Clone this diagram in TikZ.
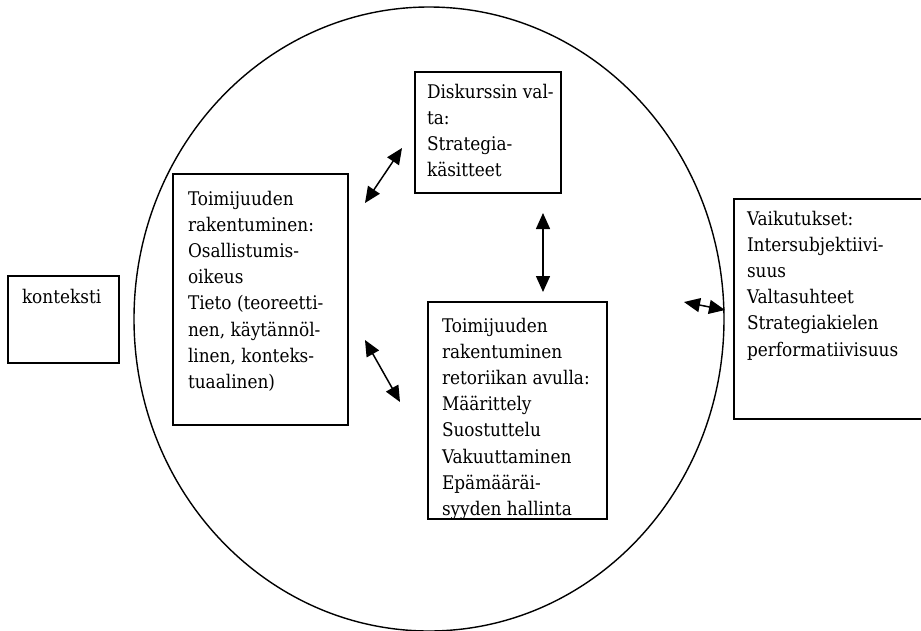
\documentclass[tikz,border=0pt]{standalone}
\usepackage{fontspec}
\setmainfont{DejaVu Serif Condensed}
\usetikzlibrary{arrows.meta}
\begin{document}
\begin{tikzpicture}[x=1pt,y=-1pt,
  frame/.style={draw, line width=1.4pt, anchor=north west, inner sep=0pt, outer sep=0pt},
  txt/.style={anchor=north west, align=left, inner sep=0pt, outer sep=0pt,
    font=\fontsize{18.8}{26.2}\selectfont},
  dbl/.style={line width=1.5pt, {Triangle[length=16pt,width=14pt]}-{Triangle[length=16pt,width=14pt]}}]
\useasboundingbox (0,0) rectangle (921,630);
\clip (0,0) rectangle (921,630);
% big circle
\draw[line width=1.4pt] (429,319) ellipse [x radius=295pt, y radius=312pt];
% boxes
\node[frame, minimum width=111pt, minimum height=87pt] (kbox) at (8,276) {};
\node[frame, minimum width=175pt, minimum height=251pt] (lbox) at (173,174) {};
\node[frame, minimum width=146pt, minimum height=121pt] (tbox) at (415,72) {};
\node[frame, minimum width=179pt, minimum height=217pt] (bbox) at (428,302) {};
\node[frame, minimum width=210pt, minimum height=220pt] (rbox) at (734,199) {};
% texts
\node[txt] (ktxt) at (22,287) {\rule{0pt}{16pt}konteksti};
\node[txt] (ltxt) at (188,189) {\rule{0pt}{16pt}Toimijuuden\\rakentuminen:\\Osallistumis-\\oikeus\\Tieto (teoreetti-\\nen, käytännöl-\\linen, konteks-\\tuaalinen)};
\node[txt] (ttxt) at (427,82) {\rule{0pt}{16pt}Diskurssin val-\\ta:\\Strategia-\\käsitteet};
\begin{scope}
\clip (429,303) rectangle (606,517);
\node[txt] (btxt) at (442,316) {\rule{0pt}{16pt}Toimijuuden\\rakentuminen\\retoriikan avulla:\\Määrittely\\Suostuttelu\\Vakuuttaminen\\Epämääräi-\\syyden hallinta};
\end{scope}
\node[txt] (rtxt) at (747,209) {\rule{0pt}{16pt}Vaikutukset:\\Intersubjektiivi-\\suus\\Valtasuhteet\\Strategiakielen\\performatiivisuus};
% arrow end points
\coordinate (a1s) at (365,203); \coordinate (a1e) at (402,148);
\coordinate (a2s) at (365,340); \coordinate (a2e) at (400,402);
\coordinate (a3s) at (543,213); \coordinate (a3e) at (543,292);
\coordinate (a4s) at (684,302); \coordinate (a4e) at (725,310);
\draw[dbl] (a1s) -- (a1e);
\draw[dbl] (a2s) -- (a2e);
\draw[dbl] (a3s) -- (a3e);
\draw[dbl] (a4s) -- (a4e);
\end{tikzpicture}
\end{document}
